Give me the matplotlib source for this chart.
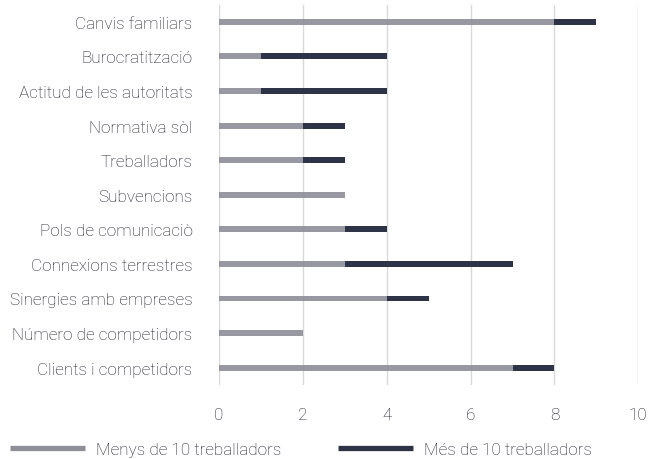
import matplotlib.pyplot as plt
from matplotlib.lines import Line2D

# categories listed bottom to top
categories = ["Clients i competidors", "Número de competidors", "Sinergies amb empreses",
              "Connexions terrestres", "Pols de comunicaciò", "Subvencions", "Treballadors",
              "Normativa sòl", "Actitud de les autoritats", "Burocratització", "Canvis familiars"]
menys_10 = [7, 2, 4, 3, 3, 3, 2, 2, 1, 1, 8]
mes_10 = [1, 0, 1, 4, 1, 0, 1, 1, 3, 3, 1]
xticks = [0, 2, 4, 6, 8, 10]

c_light = "#8e8f99"
c_dark = "#2e3347"
c_text = "#1c1c28"

plt.rcParams["font.family"] = ["Roboto", "DejaVu Sans"]

fig = plt.figure(figsize=(6.5, 4.6), dpi=100)
ax = fig.add_axes([0.337, 0.161, 0.645, 0.827])

ys = range(len(categories))
ax.barh(ys, menys_10, height=0.17, color=c_light, alpha=0.92, zorder=3)
ax.barh(ys, mes_10, left=menys_10, height=0.17, color=c_dark, zorder=3)

ax.set_xlim(0, 10)
ax.set_ylim(-0.5, len(categories) - 0.5)
ax.set_xticks(xticks)
ax.set_yticks(list(ys))
ax.set_yticklabels(categories)
ax.grid(axis="x", color="#d9d9dc", linewidth=1, zorder=0)
for s in ax.spines.values():
    s.set_visible(False)
ax.tick_params(axis="y", length=0, pad=19, labelsize=12.3, labelcolor=c_text)
ax.tick_params(axis="x", length=0, pad=16, labelsize=12.3, labelcolor=c_text)
for lab in ax.get_xticklabels() + ax.get_yticklabels():
    lab.set_fontweight("light")

handles = [Line2D([], [], color=c_light, lw=3.8, solid_capstyle="butt"),
           Line2D([], [], color=c_dark, lw=3.8, solid_capstyle="butt")]
fig.legend(handles, ["Menys de 10 treballadors", "Més de 10 treballadors"],
           loc="lower left", bbox_to_anchor=(0.015, 0.004), ncol=2, frameon=False,
           borderpad=0, borderaxespad=0,
           handlelength=4.4, handletextpad=0.65, columnspacing=3.3,
           prop={"size": 12.3, "weight": "light"}, labelcolor=c_text)

fig.savefig("out.png", dpi=100)
